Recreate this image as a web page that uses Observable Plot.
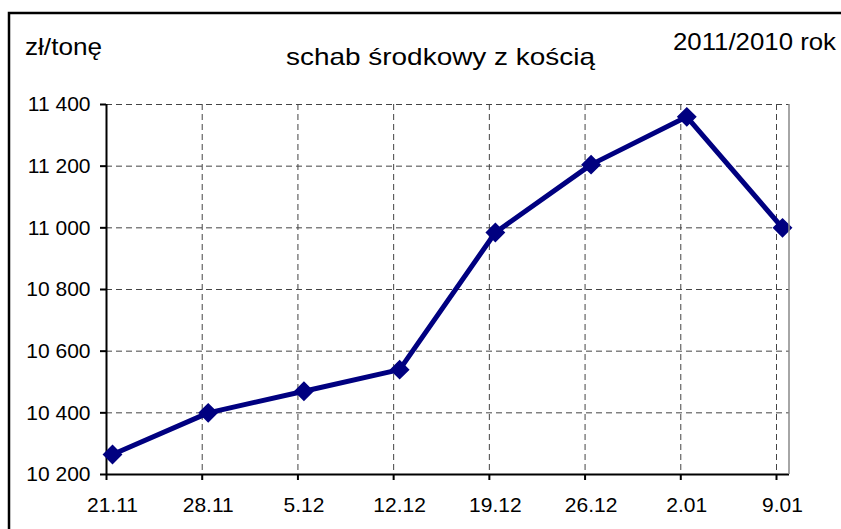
<!DOCTYPE html>
<html>
<head>
<meta charset="utf-8">
<script src="https://cdn.jsdelivr.net/npm/d3@7"></script>
<script src="https://cdn.jsdelivr.net/npm/@observablehq/plot@0.6"></script>
<style>
  html, body { margin: 0; padding: 0; background: #fff; }
  #chart svg { display: block; }
</style>
</head>
<body>
<div id="chart"></div>
<script>
const categories = ["21.11", "28.11", "5.12", "12.12", "19.12", "26.12", "2.01", "9.01"];
const prices = [10265, 10400, 10470, 10540, 10985, 11205, 11360, 11000];
const yTicks = [10200, 10400, 10600, 10800, 11000, 11200, 11400];
const titleText = "schab środkowy z kością";
const unitText = "zł/tonę";
const periodText = "2011/2010 rok";

const data = categories.map((c, i) => ({i, c, v: prices[i]}));
const fmt = d3.formatLocale({decimal: ",", thousands: " ", grouping: [3], currency: ["", ""]}).format(",");

const W = 841, H = 529;
const mL = 106, mR = 52, mT = 104, mB = 55;
const font = "'Liberation Sans', Arial, sans-serif";
const dash = {stroke: "#444", strokeOpacity: 1, strokeWidth: 1, strokeDasharray: "6,4"};
const idx = d3.range(categories.length);

const chart = Plot.plot({
  width: W, height: H,
  marginLeft: mL, marginRight: mR, marginTop: mT, marginBottom: mB,
  style: {fontFamily: font, fontSize: "21px", color: "#000", background: "#fff", overflow: "visible"},
  x: {type: "linear", domain: [0, categories.length - 1], insetRight: 13},
  y: {domain: [yTicks[0], yTicks[yTicks.length - 1]]},
  marks: [
    Plot.gridY(yTicks, dash),
    Plot.gridX(idx, dash),
    Plot.ruleX([0], {stroke: "#000", strokeWidth: 2}),
    Plot.ruleY([yTicks[0]], {stroke: "#000", strokeWidth: 2}),
    Plot.axisY(yTicks, {tickSize: 6, tickPadding: 10, tickFormat: fmt, fontSize: 21, stroke: "#000", strokeWidth: 2, label: null}),
    Plot.axisX(idx, {tickSize: 6, tickFormat: () => "", stroke: "#000", strokeWidth: 2, label: null}),
    Plot.axisX(idx, {tickSize: 0, tickPadding: 23, dx: 6, tickFormat: i => categories[i], fontSize: 21, label: null}),
    Plot.line(data, {x: "i", y: "v", stroke: "#000080", strokeWidth: 5, dx: 6}),
    Plot.dot(data, {x: "i", y: "v", symbol: "diamond2", r: 8, fill: "#000080", stroke: "#000080", dx: 6})
  ]
});

document.getElementById("chart").appendChild(chart);
const svg = d3.select(chart);

// right edge of plot area
svg.append("line")
  .attr("x1", W - mR).attr("x2", W - mR)
  .attr("y1", mT).attr("y2", H - mB)
  .attr("stroke", "#888").attr("stroke-width", 1.5);

// outer frame
svg.append("rect")
  .attr("x", 9).attr("y", 13).attr("width", W + 10).attr("height", H + 10)
  .attr("fill", "none").attr("stroke", "#000").attr("stroke-width", 2.5);

const txt = (x, y, s, anchor, size, len) => svg.append("text")
  .attr("x", x).attr("y", y).attr("text-anchor", anchor)
  .attr("font-family", font).attr("font-size", size).attr("fill", "#000")
  .attr("textLength", len).attr("lengthAdjust", "spacingAndGlyphs").text(s);

txt(25, 55, unitText, "start", 24, 77);
txt(440.5, 65, titleText, "middle", 24, 309);
txt(836, 50, periodText, "end", 24, 163);
</script>
</body>
</html>
